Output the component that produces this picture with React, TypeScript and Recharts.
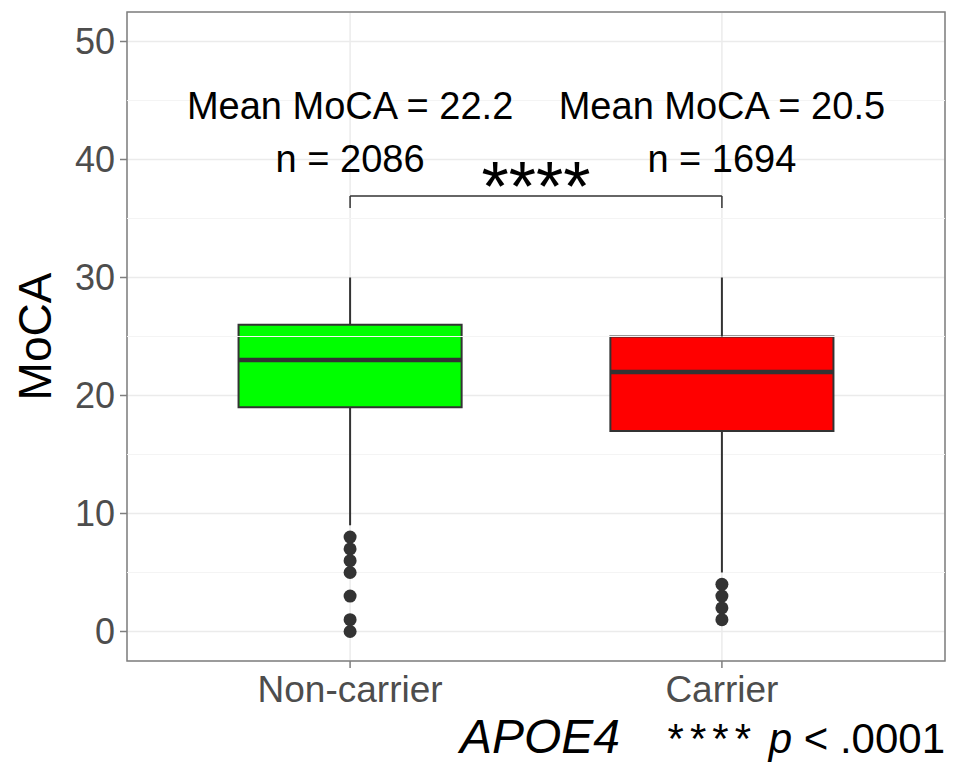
import {
  CartesianGrid,
  ComposedChart,
  ReferenceArea,
  ReferenceDot,
  ReferenceLine,
  Scatter,
  XAxis,
  YAxis,
} from "recharts";

const categories = ["Non-carrier", "Carrier"];
const positions = [1, 2];
const boxColors = ["#00ff00", "#ff0000"];
const lowerWhisker = [9, 5];
const q1 = [19, 17];
const median = [23, 22];
const q3 = [26, 25];
const upperWhisker = [30, 30];
const outliersNonCarrier = [8, 7, 6, 5, 3, 1, 0];
const outliersCarrier = [4, 3, 2, 1];
const meanMoca = [22.2, 20.5];
const counts = [2086, 1694];
const yTicks = [0, 10, 20, 30, 40, 50];
const yMinor = [5, 15, 25, 35, 45];
const bracketY = 36.9;
const bracketFoot = 35.9;
// label baselines, in MoCA units
const meanLabelY = 43.4;
const countLabelY = 38.9;
const starsY = 35.6;

const FONT = "'Liberation Sans', Arial, Helvetica, sans-serif";
const DARK = "#333333";
const HALF_BOX = 0.3;

const outlierPoints = [
  ...outliersNonCarrier.map((y) => ({ x: positions[0], y })),
  ...outliersCarrier.map((y) => ({ x: positions[1], y })),
];

const Dot = (p: any) => <circle cx={p.cx} cy={p.cy} r={6.5} fill={DARK} />;

const textAt = (value: string, fontSize: number) => (p: any) => {
  const vb = p.viewBox || { x: 0, y: 0 };
  return (
    <text
      x={vb.x + (vb.width || 0) / 2}
      y={vb.y + (vb.height || 0) / 2}
      textAnchor="middle"
      fontSize={fontSize}
      fontFamily={FONT}
      fill="#000"
    >
      {value}
    </text>
  );
};

const YTitle = (p: any) => {
  const vb = p.viewBox || { x: 0, y: 0, width: 0, height: 0 };
  const cx = 35;
  const cy = vb.y + vb.height / 2;
  return (
    <text
      x={cx}
      y={cy}
      transform={`rotate(-90 ${cx} ${cy})`}
      textAnchor="middle"
      dominantBaseline="central"
      fontSize={46}
      fontFamily={FONT}
      fill="#000"
    >
      MoCA
    </text>
  );
};

const XTitle = (p: any) => {
  const vb = p.viewBox || { x: 0, y: 0, width: 0, height: 0 };
  const cx = vb.x + vb.width / 2;
  const y = 753;
  return (
    <g fontFamily={FONT}>
      <text x={cx + 4} y={y} textAnchor="middle" fontSize={48} fontStyle="italic" fill="#000">
        APOE4
      </text>
      <text x={945} y={y} textAnchor="end" fontSize={42} fill="#000">
        <tspan letterSpacing={6}>{"****"}</tspan>
        <tspan>{" "}</tspan>
        <tspan fontStyle="italic">p</tspan>
        <tspan>{" < .0001"}</tspan>
      </text>
    </g>
  );
};

export default function App() {
  return (
    <div style={{ position: "absolute", left: 0, top: 0, background: "#fff" }}>
      <ComposedChart
        width={955}
        height={769}
        margin={{ top: 12, right: 10, bottom: 0, left: 0 }}
      >
        <CartesianGrid stroke="#ebebeb" strokeWidth={1.5} />
        {yMinor.map((v) => (
          <ReferenceLine key={"m" + v} y={v} stroke="#f4f4f4" strokeWidth={1} />
        ))}
        <XAxis
          type="number"
          dataKey="x"
          domain={[0.4, 2.6]}
          ticks={positions}
          allowDataOverflow
          tickFormatter={(v) => categories[positions.indexOf(v)] ?? ""}
          axisLine={false}
          tickSize={7}
          tickMargin={8}
          tickLine={{ stroke: "#7f7f7f", strokeWidth: 1.5 }}
          tick={{ fontSize: 37, fill: "#4d4d4d", fontFamily: FONT }}
          height={108}
          label={{ content: XTitle }}
        />
        <YAxis
          type="number"
          dataKey="y"
          domain={[-2.5, 52.5]}
          ticks={yTicks}
          allowDataOverflow
          axisLine={false}
          tickSize={7}
          tickMargin={5}
          tickLine={{ stroke: "#7f7f7f", strokeWidth: 1.5 }}
          tick={{ fontSize: 36, fill: "#4d4d4d", fontFamily: FONT }}
          width={127}
          label={{ content: YTitle }}
        />
        {positions.map((x, i) => (
          <ReferenceLine
            key={"wu" + i}
            segment={[
              { x, y: q3[i] },
              { x, y: upperWhisker[i] },
            ]}
            stroke={DARK}
            strokeWidth={2}
          />
        ))}
        {positions.map((x, i) => (
          <ReferenceLine
            key={"wl" + i}
            segment={[
              { x, y: lowerWhisker[i] },
              { x, y: q1[i] },
            ]}
            stroke={DARK}
            strokeWidth={2}
          />
        ))}
        {positions.map((x, i) => (
          <ReferenceArea
            key={"b" + i}
            x1={x - HALF_BOX}
            x2={x + HALF_BOX}
            y1={q1[i]}
            y2={q3[i]}
            fill={boxColors[i]}
            fillOpacity={1}
            stroke={DARK}
            strokeWidth={2}
          />
        ))}
        {positions.map((x, i) => (
          <ReferenceLine
            key={"md" + i}
            segment={[
              { x: x - HALF_BOX, y: median[i] },
              { x: x + HALF_BOX, y: median[i] },
            ]}
            stroke={DARK}
            strokeWidth={4.5}
          />
        ))}
        <Scatter
          data={outlierPoints}
          dataKey="y"
          shape={Dot}
          isAnimationActive={false}
        />
        <ReferenceLine
          segment={[
            { x: positions[0], y: bracketY },
            { x: positions[1], y: bracketY },
          ]}
          stroke={DARK}
          strokeWidth={1.5}
        />
        {positions.map((x, i) => (
          <ReferenceLine
            key={"bf" + i}
            segment={[
              { x, y: bracketFoot },
              { x, y: bracketY },
            ]}
            stroke={DARK}
            strokeWidth={1.5}
          />
        ))}
        {positions.map((x, i) => (
          <ReferenceDot
            key={"mean" + i}
            x={x}
            y={meanLabelY}
            r={0}
            stroke="none"
            label={{ content: textAt(`Mean MoCA = ${meanMoca[i].toFixed(1)}`, 38) }}
          />
        ))}
        {positions.map((x, i) => (
          <ReferenceDot
            key={"n" + i}
            x={x}
            y={countLabelY}
            r={0}
            stroke="none"
            label={{ content: textAt(`n = ${counts[i]}`, 38) }}
          />
        ))}
        <ReferenceDot
          x={(positions[0] + positions[1]) / 2}
          y={starsY}
          r={0}
          stroke="none"
          label={{ content: textAt("****", 70) }}
        />
        <ReferenceArea
          x1={0.4}
          x2={2.6}
          y1={-2.5}
          y2={52.5}
          fill="none"
          stroke="#7f7f7f"
          strokeWidth={1.5}
        />
      </ComposedChart>
    </div>
  );
}
